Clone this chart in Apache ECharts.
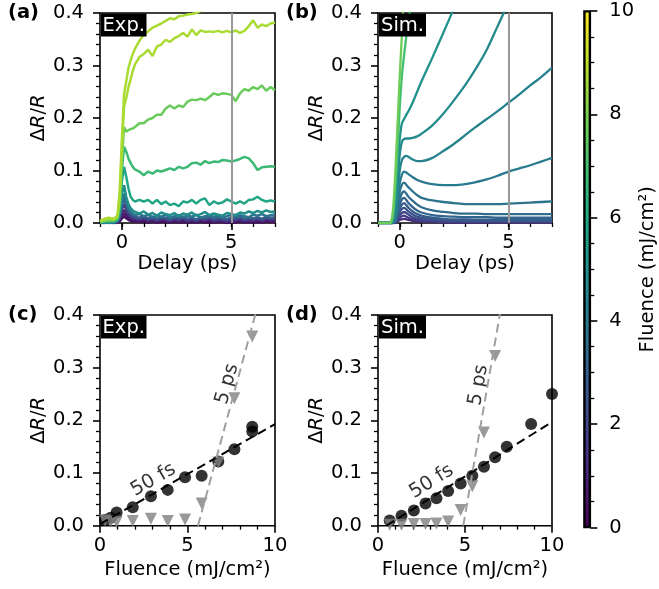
<!DOCTYPE html>
<html><head><meta charset="utf-8">
<script src="https://cdn.jsdelivr.net/npm/echarts@6/dist/echarts.min.js"></script>
<style>html,body{margin:0;padding:0;background:#fff}#c{width:659px;height:589px}</style>
</head><body><div id="c"></div>
<script>
// ---------------- DATA ----------------
// (a) experiment: delay axis (ps)
const tExp = [-1.0,-0.8,-0.6,-0.4,-0.3,-0.2,-0.1,0.0,0.1,0.2,0.3,0.4,0.5,0.6,0.8,1.0,1.2,1.4,1.6,1.8,2.0,2.2,2.4,2.6,2.8,3.0,3.2,3.4,3.6,3.8,4.0,4.2,4.4,4.6,4.8,5.0,5.2,5.4,5.6,5.8,6.0,6.2,6.4,6.6,6.8,7.0];
const expFluences = [0.29,0.61,0.95,1.87,2.91,3.87,4.86,5.81,6.76,7.68,8.70,8.70];
const expF029 = [0.000,0.000,0.001,0.000,0.000,0.001,0.003,0.009,0.012,0.009,0.006,0.004,0.003,0.003,0.002,0.003,0.001,0.003,0.001,0.002,0.002,0.001,0.003,0.001,0.002,0.001,0.002,0.001,0.003,0.001,0.002,0.001,0.002,0.002,0.000,0.002,0.001,0.003,0.001,0.002,0.001,0.002,0.001,0.003,0.002,0.002];
const expF061 = [0.000,0.001,0.000,0.001,0.000,0.001,0.004,0.013,0.018,0.014,0.009,0.006,0.005,0.004,0.003,0.005,0.002,0.004,0.002,0.004,0.003,0.002,0.004,0.002,0.004,0.002,0.003,0.002,0.004,0.002,0.004,0.002,0.003,0.003,0.001,0.003,0.002,0.004,0.002,0.003,0.002,0.004,0.002,0.004,0.003,0.003];
const expF095 = [0.001,0.000,0.001,0.000,0.001,0.002,0.006,0.018,0.025,0.019,0.013,0.009,0.007,0.006,0.005,0.007,0.004,0.006,0.003,0.006,0.005,0.003,0.006,0.004,0.006,0.003,0.005,0.003,0.006,0.004,0.006,0.003,0.005,0.004,0.002,0.005,0.004,0.006,0.003,0.005,0.004,0.006,0.003,0.006,0.004,0.005];
const expF187 = [0.000,0.001,0.000,0.001,0.002,0.002,0.009,0.026,0.035,0.026,0.018,0.013,0.010,0.009,0.007,0.010,0.006,0.008,0.005,0.009,0.007,0.005,0.008,0.006,0.009,0.005,0.007,0.004,0.008,0.006,0.009,0.005,0.007,0.006,0.004,0.008,0.006,0.009,0.005,0.007,0.006,0.008,0.005,0.009,0.007,0.008];
const expF291 = [0.001,0.000,0.001,0.002,0.001,0.003,0.012,0.034,0.045,0.033,0.024,0.018,0.014,0.012,0.010,0.013,0.009,0.012,0.008,0.011,0.010,0.007,0.011,0.009,0.012,0.008,0.010,0.007,0.011,0.009,0.012,0.008,0.010,0.009,0.007,0.011,0.009,0.012,0.008,0.010,0.009,0.011,0.008,0.012,0.010,0.011];
const expF387 = [0.000,0.001,0.002,0.001,0.002,0.004,0.015,0.042,0.056,0.040,0.028,0.022,0.018,0.015,0.017,0.013,0.016,0.011,0.014,0.012,0.016,0.010,0.013,0.015,0.011,0.014,0.012,0.016,0.010,0.013,0.015,0.012,0.014,0.011,0.013,0.016,0.012,0.015,0.013,0.011,0.016,0.014,0.017,0.013,0.015,0.016];
const expF486 = [0.001,0.002,0.001,0.002,0.003,0.005,0.020,0.055,0.072,0.050,0.036,0.028,0.024,0.021,0.018,0.022,0.016,0.019,0.014,0.020,0.017,0.015,0.019,0.013,0.018,0.016,0.020,0.014,0.017,0.021,0.015,0.018,0.016,0.014,0.019,0.017,0.015,0.020,0.018,0.022,0.019,0.023,0.020,0.024,0.021,0.022];
const expF581 = [0.001,0.003,0.002,0.003,0.004,0.006,0.025,0.080,0.107,0.088,0.066,0.050,0.044,0.041,0.044,0.041,0.044,0.037,0.044,0.036,0.041,0.034,0.037,0.032,0.041,0.039,0.044,0.037,0.044,0.047,0.034,0.041,0.037,0.039,0.045,0.041,0.037,0.041,0.037,0.044,0.045,0.050,0.044,0.041,0.043,0.041];
const expF676 = [0.002,0.003,0.004,0.004,0.005,0.008,0.030,0.100,0.145,0.136,0.123,0.114,0.107,0.102,0.098,0.091,0.098,0.094,0.100,0.098,0.101,0.104,0.101,0.107,0.104,0.107,0.114,0.115,0.111,0.118,0.114,0.117,0.116,0.120,0.119,0.117,0.119,0.122,0.126,0.123,0.114,0.101,0.106,0.107,0.108,0.107];
const expF768 = [0.002,0.004,0.005,0.005,0.006,0.010,0.040,0.120,0.183,0.174,0.177,0.179,0.180,0.183,0.190,0.190,0.197,0.200,0.206,0.206,0.218,0.224,0.218,0.224,0.221,0.231,0.235,0.234,0.237,0.234,0.240,0.247,0.244,0.247,0.246,0.244,0.232,0.247,0.255,0.252,0.259,0.255,0.262,0.252,0.259,0.253];
const expF870b = [0.003,0.006,0.008,0.007,0.009,0.013,0.050,0.140,0.222,0.238,0.258,0.274,0.290,0.302,0.316,0.322,0.330,0.318,0.336,0.340,0.349,0.345,0.352,0.356,0.362,0.355,0.369,0.358,0.367,0.364,0.365,0.364,0.366,0.363,0.366,0.363,0.367,0.362,0.366,0.375,0.386,0.372,0.378,0.375,0.380,0.382];
const expF870a = [0.004,0.008,0.010,0.008,0.010,0.015,0.060,0.160,0.245,0.270,0.295,0.310,0.322,0.332,0.347,0.358,0.365,0.372,0.376,0.380,0.385,0.390,0.388,0.394,0.395,0.397,0.398,0.400,0.404,0.408,0.411,0.414,0.416,0.418,0.420,0.422,0.424,0.425,0.426,0.428,0.430,0.431,0.432,0.433,0.434,0.435];
const expCurves = [expF029,expF061,expF095,expF187,expF291,expF387,expF486,expF581,expF676,expF768,expF870b,expF870a];

// (b) simulation
const tSim = [-1,-0.5,-0.4,-0.3,-0.2,-0.1,0,0.1,0.2,0.3,0.4,0.6,0.8,1.0,1.5,2.0,2.5,3.0,3.5,4.0,4.5,5.0,5.5,6.0,6.5,7.0];
const simFluences = [1.3,1.7,2.1,2.5,2.9,3.2,3.5,3.8,4.1,4.4,4.7,5.0,7.0,7.8];
const simS14 = [0,0,0,0,0,0.003,0.006,0.007,0.008,0.007,0.006,0.004,0.003,0.002,0.002,0.001,0.001,0.001,0.001,0.001,0.001,0.001,0.001,0.001,0.001,0.001];
const simS13 = [0,0,0,0,0.001,0.005,0.010,0.013,0.014,0.012,0.010,0.007,0.005,0.004,0.003,0.002,0.002,0.002,0.002,0.002,0.002,0.002,0.002,0.002,0.002,0.002];
const simS12 = [0,0,0,0,0.001,0.007,0.015,0.019,0.021,0.019,0.016,0.011,0.008,0.007,0.005,0.004,0.003,0.003,0.003,0.003,0.003,0.003,0.003,0.003,0.003,0.003];
const simS11 = [0,0,0,0,0.002,0.010,0.021,0.027,0.029,0.026,0.022,0.016,0.012,0.010,0.007,0.005,0.005,0.004,0.004,0.004,0.004,0.004,0.004,0.004,0.004,0.004];
const simS10 = [0,0,0,0,0.003,0.013,0.027,0.035,0.038,0.034,0.029,0.022,0.017,0.014,0.010,0.008,0.007,0.007,0.006,0.006,0.006,0.006,0.006,0.006,0.006,0.006];
const simS9 = [0,0,0,0,0.004,0.017,0.035,0.045,0.048,0.044,0.038,0.030,0.024,0.020,0.015,0.013,0.012,0.011,0.011,0.011,0.010,0.010,0.010,0.010,0.010,0.010];
const simS8 = [0,0,0,0.001,0.006,0.022,0.045,0.057,0.060,0.056,0.050,0.042,0.035,0.030,0.024,0.021,0.019,0.018,0.018,0.017,0.017,0.017,0.017,0.017,0.017,0.017];
const simS7 = [0,0,0,0.001,0.008,0.030,0.060,0.073,0.077,0.073,0.068,0.060,0.053,0.048,0.043,0.040,0.038,0.036,0.036,0.036,0.036,0.037,0.038,0.039,0.040,0.041];
const simS6 = [0,0,0,0.002,0.012,0.040,0.075,0.092,0.098,0.096,0.093,0.087,0.082,0.079,0.074,0.072,0.072,0.074,0.078,0.083,0.090,0.098,0.104,0.110,0.117,0.124];
const simS5 = [0,0,0,0.003,0.020,0.060,0.100,0.120,0.126,0.128,0.126,0.121,0.118,0.118,0.124,0.137,0.151,0.167,0.183,0.198,0.213,0.229,0.245,0.262,0.278,0.296];
const simS4 = [0,0,0,0.005,0.030,0.080,0.130,0.155,0.160,0.161,0.161,0.162,0.165,0.170,0.186,0.208,0.234,0.262,0.294,0.330,0.375,0.420,0.470,0.520,0.570,0.620];
const simS3 = [0,0,0,0.010,0.040,0.100,0.160,0.190,0.198,0.206,0.213,0.230,0.250,0.270,0.315,0.362,0.410,0.460,0.510,0.560,0.610,0.660,0.710,0.760,0.810,0.860];
const simS2 = [0,0,0.001,0.020,0.070,0.140,0.220,0.280,0.320,0.355,0.385,0.440,0.500,0.550,0.700,0.850,1.000,1.150,1.300,1.450,1.600,1.750,1.900,2.050,2.200,2.350];
const simS1 = [0,0,0.002,0.030,0.100,0.190,0.280,0.360,0.440,0.520,0.600,0.750,0.900,1.000,1.200,1.400,1.600,1.800,2.000,2.200,2.400,2.600,2.800,3.000,3.200,3.400];
const simCurves = [simS14,simS13,simS12,simS11,simS10,simS9,simS8,simS7,simS6,simS5,simS4,simS3,simS2,simS1];

// (c) experiment vs fluence
const fluExp = [0.29,0.61,0.95,1.87,2.91,3.87,4.86,5.81,6.76,7.68,8.70,8.70];
const exp50fs = [0.011,0.015,0.025,0.035,0.056,0.068,0.092,0.095,0.122,0.145,0.188,0.179];
const exp5ps = [0.010,0.008,0.007,0.009,0.013,0.009,0.012,0.042,0.120,0.242,0.359,0.450];
const fitExp50X = [0, 10], fitExp50Y = [0.003, 0.193];
const fitExp5X = [5.6, 8.95], fitExp5Y = [0.0, 0.41];
// (d) simulation vs fluence
const fluSim = [0.67,1.35,2.06,2.73,3.36,4.03,4.75,5.42,6.09,6.73,7.40,8.80,10.0];
const sim50fs = [0.010,0.019,0.029,0.042,0.052,0.066,0.080,0.095,0.112,0.130,0.150,0.193,0.250];
const sim5ps = [0.002,0.002,0.003,0.003,0.004,0.008,0.030,0.075,0.177,0.322,0.550,0.900,1.200];
const fitSim50X = [0.48, 10], fitSim50Y = [0.0, 0.197];
const fitSim5X = [4.9, 7.05], fitSim5Y = [0.0, 0.41];
// annotation anchors (data coords)
const note50C = [3.05, 0.087], note5C = [7.27, 0.269];
const note50D = [3.08, 0.084], note5D = [5.78, 0.267];
const cbarMax = 10;

// ---------------- STYLE ----------------
const FONT = 'DejaVu Sans', FS = 19.5;
const VIR = ['#440154','#482475','#414487','#355f8d','#2a788e','#21918c','#22a884','#44bf70','#7ad151','#bddf26','#fde725'];
function hx(h){return [1,3,5].map(i=>parseInt(h.substr(i,2),16));}
function viridis(f){f=Math.max(0,Math.min(1,f));const p=f*10;const i=Math.min(9,Math.floor(p));const r=p-i;const a=hx(VIR[i]),b=hx(VIR[i+1]);return 'rgb('+[0,1,2].map(k=>Math.round(a[k]+(b[k]-a[k])*r)).join(',')+')';}
const zip=(xs,ys)=>xs.map((x,i)=>[x,ys[i]]);

const noLine={show:false,onZero:false};
const tickStyle={color:'#000',width:1.6};
const nameStyle={color:'#000',fontSize:FS,fontFamily:FONT};
const richName={d:{fontSize:FS,fontFamily:FONT,color:'#000'},i:{fontSize:FS,fontFamily:FONT,fontStyle:'italic',color:'#000'}};
function yAx(gi){return {gridIndex:gi,type:'value',min:0,max:0.4,interval:0.1,position:'left',
  axisLine:noLine,splitLine:{show:false},
  axisTick:{show:true,length:7,lineStyle:tickStyle},
  minorTick:{show:true,splitNumber:5,length:4,lineStyle:{color:'#000',width:1.3}},
  axisLabel:{color:'#000',fontSize:FS,fontFamily:FONT,margin:16,formatter:v=>v.toFixed(1)},
  name:'{d|Δ}{i|R}{d|/}{i|R}',nameLocation:'middle',nameGap:45,nameRotate:90,
  nameTextStyle:Object.assign({},nameStyle,{rich:richName})};}
function xDelay(gi){return [{gridIndex:gi,type:'value',min:-1,max:7,interval:1,position:'bottom',
  axisLine:noLine,splitLine:{show:false},
  axisTick:{show:true,customValues:[0,5],length:7,lineStyle:tickStyle},
  axisLabel:{customValues:[0,5],color:'#000',fontSize:FS,fontFamily:FONT,margin:10,formatter:v=>String(v)},
  name:'Delay (ps)',nameLocation:'middle',nameGap:31,nameTextStyle:nameStyle},
 {gridIndex:gi,type:'value',min:-1,max:7,interval:1,position:'bottom',
  axisLine:noLine,splitLine:{show:false},
  axisTick:{show:true,length:4,lineStyle:{color:'#000',width:1.3}},axisLabel:{show:false}}];}
function xFlu(gi){return {gridIndex:gi,type:'value',min:0,max:10,interval:5,position:'bottom',
  axisLine:noLine,splitLine:{show:false},
  axisTick:{show:true,length:7,lineStyle:tickStyle},
  minorTick:{show:true,splitNumber:5,length:4,lineStyle:{color:'#000',width:1.3}},
  axisLabel:{color:'#000',fontSize:FS,fontFamily:FONT,margin:10,formatter:v=>String(v)},
  name:'Fluence (mJ/cm²)',nameLocation:'middle',nameGap:34,nameTextStyle:nameStyle};}

const gridBase={show:true,borderColor:'#000',borderWidth:1.6,backgroundColor:'transparent',containLabel:false};
const grids=[
  Object.assign({left:100,top:13,width:175,height:210},gridBase),
  Object.assign({left:378,top:13,width:174,height:210},gridBase),
  Object.assign({left:100,top:315,width:175,height:210.7},gridBase),
  Object.assign({left:378,top:315,width:174,height:210.7},gridBase),
  Object.assign({left:584,top:11,width:14,height:516.5},gridBase)
];

const xAxes=[...xDelay(0),...xDelay(1),xFlu(2),xFlu(3),
  {gridIndex:4,type:'category',data:['cb'],show:false}];
const yAxes=[yAx(0),yAx(1),yAx(2),yAx(3),
  {gridIndex:4,type:'value',position:'right',min:0,max:cbarMax,interval:2,
   axisLine:noLine,splitLine:{show:false},
   axisTick:{show:true,length:7,lineStyle:tickStyle},
   minorTick:{show:true,splitNumber:4,length:4,lineStyle:{color:'#000',width:1.3}},
   axisLabel:{color:'#000',fontSize:FS,fontFamily:FONT,margin:19},
   name:'Fluence (mJ/cm²)',nameLocation:'middle',nameRotate:90,nameGap:35,nameTextStyle:nameStyle}];

const vline={symbol:['none','none'],silent:true,label:{show:false},lineStyle:{color:'#999',width:2,type:'solid'},data:[{xAxis:5}]};
const series=[];
expCurves.forEach((arr,k)=>{
  series.push({type:'line',xAxisIndex:0,yAxisIndex:0,data:zip(tExp,arr),showSymbol:false,
    lineStyle:{width:2.5,color:viridis(expFluences[k]/10)},itemStyle:{color:viridis(expFluences[k]/10)},
    markLine:k===expCurves.length-1?vline:undefined});
});
simCurves.forEach((arr,k)=>{
  series.push({type:'line',xAxisIndex:2,yAxisIndex:1,data:zip(tSim,arr),showSymbol:false,smooth:0.3,
    lineStyle:{width:2.3,color:viridis(simFluences[k]/10)},itemStyle:{color:viridis(simFluences[k]/10)},
    markLine:k===simCurves.length-1?vline:undefined});
});
function fluPanel(xi,yi,fx,p50,p5,f50x,f50y,f5x,f5y,n50,n5,r50,r5){
  series.push({type:'line',xAxisIndex:xi,yAxisIndex:yi,data:zip(f50x,f50y),showSymbol:false,
    lineStyle:{color:'#000',width:2,type:[9,5]}});
  series.push({type:'scatter',xAxisIndex:xi,yAxisIndex:yi,data:zip(fx,p50),symbol:'circle',symbolSize:12,clip:false,
    itemStyle:{color:'#000'}});
  series.push({type:'line',xAxisIndex:xi,yAxisIndex:yi,data:zip(f5x,f5y),showSymbol:false,
    lineStyle:{color:'#a0a0a0',width:2,type:[9,5]}});
  series.push({type:'scatter',xAxisIndex:xi,yAxisIndex:yi,data:zip(fx,p5),symbol:'triangle',symbolRotate:180,symbolSize:12,clip:true,
    itemStyle:{color:'#808080'}});
  [[n50,'50 fs',r50],[n5,'5 ps',r5]].forEach(([p,txt,rot])=>{
    series.push({type:'scatter',xAxisIndex:xi,yAxisIndex:yi,data:[p],symbolSize:1,itemStyle:{color:'rgba(0,0,0,0)'},silent:true,
      label:{show:true,position:'inside',formatter:txt,rotate:rot,color:'#000',fontSize:FS,fontFamily:FONT,align:'center',verticalAlign:'middle'}});
  });
}
fluPanel(4,2,fluExp,exp50fs,exp5ps,fitExp50X,fitExp50Y,fitExp5X,fitExp5Y,note50C,note5C,30,74.5);
fluPanel(5,3,fluSim,sim50fs,sim5ps,fitSim50X,fitSim50Y,fitSim5X,fitSim5Y,note50D,note5D,32,80);
series.push({type:'bar',xAxisIndex:6,yAxisIndex:4,data:[cbarMax],barWidth:'100%',silent:true,
  itemStyle:{borderColor:'#000',borderWidth:1.6,color:{type:'linear',x:0,y:1,x2:0,y2:0,colorStops:VIR.map((c,i)=>({offset:i/10,color:c}))}}});

function tag(x,y,txt,w){return [
  {type:'rect',shape:{x:x,y:y,width:w,height:23},style:{fill:'#000'},z:100},
  {type:'text',x:x+w/2,y:y+12,style:{text:txt,fill:'#fff',font:FS+'px "DejaVu Sans"',textAlign:'center',textVerticalAlign:'middle'},z:101}];}
function plabel(x,y,t){return {type:'text',x:x,y:y,style:{text:t,fill:'#000',font:'bold '+FS+'px "DejaVu Sans"',textAlign:'left',textVerticalAlign:'middle'},z:101};}

const chart=echarts.init(document.getElementById('c'),null,{renderer:'canvas',width:659,height:589});
chart.setOption({
  animation:false,backgroundColor:'#fff',textStyle:{fontFamily:FONT},
  grid:grids,xAxis:xAxes,yAxis:yAxes,series:series,
  graphic:[
    plabel(8,13,'(a)'),plabel(286,13,'(b)'),plabel(8,315,'(c)'),plabel(286,315,'(d)'),
    ...tag(101,13.5,'Exp.',45.5),...tag(379,13.5,'Sim.',47),
    ...tag(101,315.5,'Exp.',45.5),...tag(379,315.5,'Sim.',47)
  ]
});
</script></body></html>
